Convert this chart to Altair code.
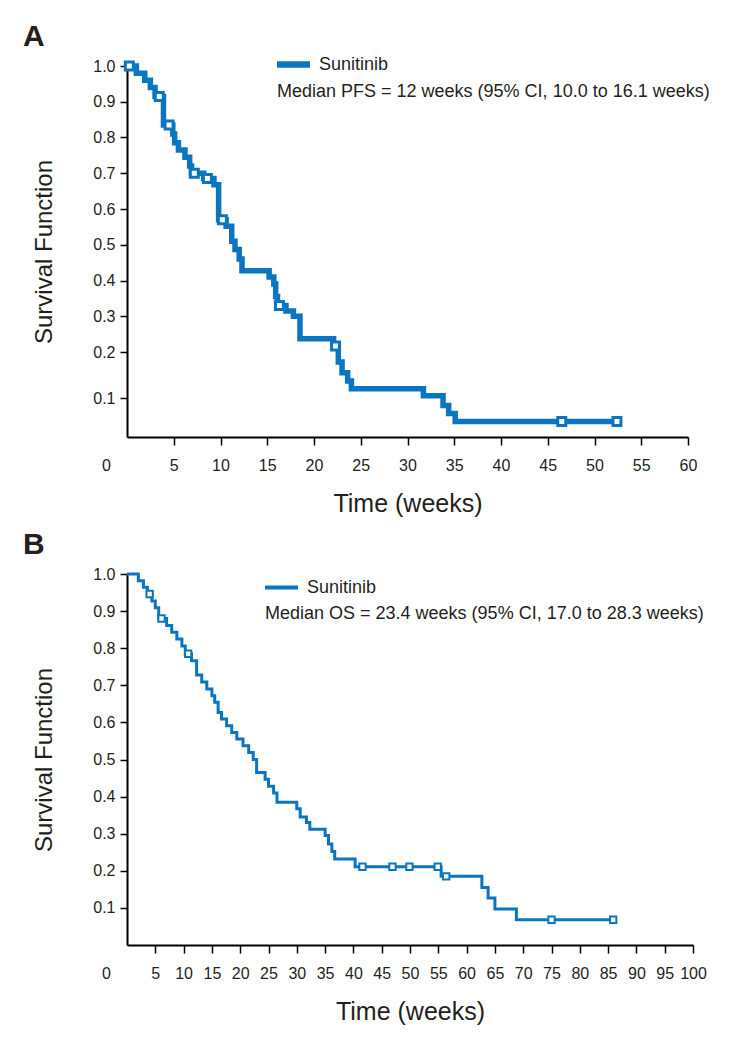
import altair as alt
import pandas as pd

FONT = "Liberation Sans"
TXT = "#231f20"
BLUE = "#0b75c0"

# ---------------- Panel A : PFS ----------------
a_time = [0, 1.0, 1.9, 2.5, 3.0, 3.9, 4.9, 5.1, 5.5, 6.2, 6.7, 6.9, 8.2, 9.3, 9.8,
          10.6, 11.2, 11.55, 12.0, 12.3, 15.2, 15.7, 15.9, 16.1, 17.0, 17.8, 18.5,
          22.1, 22.6, 23.0, 23.6, 24.0, 31.7, 33.8, 34.4, 35.1, 52.4]
a_surv = [1.0, 0.98, 0.96, 0.94, 0.915, 0.835, 0.81, 0.785, 0.765, 0.745, 0.72, 0.70,
          0.685, 0.668, 0.57, 0.552, 0.51, 0.487, 0.46, 0.427, 0.41, 0.39, 0.355, 0.33,
          0.315, 0.30, 0.237, 0.217, 0.178, 0.155, 0.137, 0.12, 0.105, 0.081, 0.06,
          0.04, 0.04]
a_cens_time = [0.25, 3.45, 4.5, 7.2, 8.6, 10.2, 16.3, 22.3, 46.5, 52.4]
a_cens_surv = [1.0, 0.915, 0.835, 0.70, 0.685, 0.57, 0.33, 0.217, 0.04, 0.04]
a_xticks = [0, 5, 10, 15, 20, 25, 30, 35, 40, 45, 50, 55, 60]

# ---------------- Panel B : OS ----------------
b_time = [0, 2.0, 2.9, 3.6, 4.4, 5.0, 5.6, 7.0, 7.9, 8.8, 9.7, 10.3, 11.4, 12.3,
          13.2, 14.1, 15.0, 15.5, 16.1, 16.7, 17.6, 18.5, 19.4, 20.5, 21.5, 22.3,
          22.9, 24.4, 25.0, 25.9, 26.5, 30.0, 30.6, 31.7, 32.3, 35.0, 35.6, 36.2,
          36.7, 40.3, 55.5, 62.7, 63.8, 65.0, 68.8, 85.9]
b_surv = [1.0, 0.982, 0.964, 0.946, 0.927, 0.909, 0.88, 0.861, 0.843, 0.825, 0.806,
          0.785, 0.766, 0.728, 0.709, 0.69, 0.672, 0.654, 0.627, 0.609, 0.591, 0.573,
          0.555, 0.537, 0.519, 0.50, 0.465, 0.447, 0.428, 0.41, 0.385, 0.367, 0.345,
          0.33, 0.312, 0.295, 0.272, 0.252, 0.232, 0.211, 0.185, 0.155, 0.127, 0.097,
          0.068, 0.068]
b_cens_time = [4.0, 6.1, 10.8, 41.6, 46.9, 49.9, 54.9, 56.4, 75.0, 85.9]
b_cens_surv = [0.946, 0.88, 0.785, 0.211, 0.211, 0.211, 0.211, 0.185, 0.068, 0.068]
b_xticks = [0, 5, 10, 15, 20, 25, 30, 35, 40, 45, 50, 55, 60, 65, 70, 75, 80, 85,
            90, 95, 100]

y_ticks = [0.1, 0.2, 0.3, 0.4, 0.5, 0.6, 0.7, 0.8, 0.9, 1.0]

PLOT_H = 371


def text_layer(txt, x, y, size, weight="normal", align="left", baseline="middle"):
    return alt.Chart(pd.DataFrame({"txt": [txt]})).mark_text(
        font=FONT, fontSize=size, fontWeight=weight, color=TXT, align=align,
        baseline=baseline,
    ).encode(x=alt.value(x), y=alt.value(y), text="txt:N")


def panel(times, survs, ctimes, csurvs, xmax, xticks, width, ydomain, yrange,
          letter, median_text, lw, sq_size, sq_sw, leg_x0, leg_x1, leg_y,
          name_x, med_y):
    df = pd.DataFrame({"t": times, "s": survs})
    cdf = pd.DataFrame({"t": ctimes, "s": csurvs})
    xenc = alt.X(
        "t:Q",
        scale=alt.Scale(domain=[0, xmax], nice=False, zero=False),
        axis=alt.Axis(
            values=xticks, title="Time (weeks)", titleFont=FONT,
            titleFontSize=25, titleFontWeight="normal", titleColor=TXT,
            titlePadding=18, labelFont=FONT, labelFontSize=16,
            labelColor=TXT, labelPadding=12, tickSize=8, tickWidth=1.5,
            tickColor="#000", domainColor="#000", domainWidth=2, grid=False,
            labelOverlap=False, labelBound=False, labelFlush=False,
            labelSeparation=0,
            labelOffset={"condition": {"test": "datum.value === 0", "value": -21},
                         "value": 0},
            tickOpacity={"condition": {"test": "datum.value === 0", "value": 0},
                         "value": 1},
        ),
    )
    yenc = alt.Y(
        "s:Q",
        scale=alt.Scale(domain=ydomain, range=yrange, nice=False, zero=False),
        axis=alt.Axis(
            values=y_ticks, format=".1f", title="Survival Function",
            titleFont=FONT, titleFontSize=24, titleFontWeight="normal",
            titleColor=TXT, titlePadding=36, labelFont=FONT, labelFontSize=16,
            labelColor=TXT, labelPadding=5, tickSize=7, tickWidth=1.5,
            tickColor="#000", domainColor="#000", domainWidth=2, grid=False,
            labelOverlap=False, labelFlush=False,
        ),
    )
    line = alt.Chart(df).mark_line(
        interpolate="step-after", color=BLUE, strokeWidth=lw, strokeJoin="miter",
    ).encode(x=xenc, y=yenc)
    cens = alt.Chart(cdf).mark_point(
        shape="square", filled=True, fill="white", stroke=BLUE, strokeWidth=sq_sw,
        size=sq_size, opacity=1,
    ).encode(x=xenc, y=yenc)
    leg_line = alt.Chart(pd.DataFrame({"k": [1]})).mark_rule(
        color=BLUE, strokeWidth=lw + 1,
    ).encode(x=alt.value(leg_x0), x2=alt.value(leg_x1), y=alt.value(leg_y))
    name = text_layer("Sunitinib", name_x, leg_y, 18)
    med = text_layer(median_text, leg_x0, med_y, 18)
    let = text_layer(letter, -104, -20, 30, weight="bold", baseline="alphabetic")
    return alt.layer(line, cens, leg_line, name, med, let).properties(
        width=width, height=PLOT_H
    )


panel_a = panel(
    a_time, a_surv, a_cens_time, a_cens_surv, 60, a_xticks, 561,
    [0, 0.1, 0.2, 1.0], [PLOT_H, 332, 286, 0], "A",
    "Median PFS = 12 weeks (95% CI, 10.0 to 16.1 weeks)",
    5.5, 64, 3, 150, 183, -1.5, 192, 26,
)
panel_b = panel(
    b_time, b_surv, b_cens_time, b_cens_surv, 100, b_xticks, 566,
    [0, 1.0], [PLOT_H, 0], "B",
    "Median OS = 23.4 weeks (95% CI, 17.0 to 28.3 weeks)",
    3, 40, 2, 138, 171, 13.5, 180, 39.5,
)

chart = alt.vconcat(panel_a, panel_b, spacing=14).properties(
    padding={"left": 15, "top": 14, "right": 5, "bottom": 5},
    background="white",
).configure_view(strokeWidth=0, stroke="transparent")

chart.save("out.html", embed_options={"renderer": "svg", "actions": False})
